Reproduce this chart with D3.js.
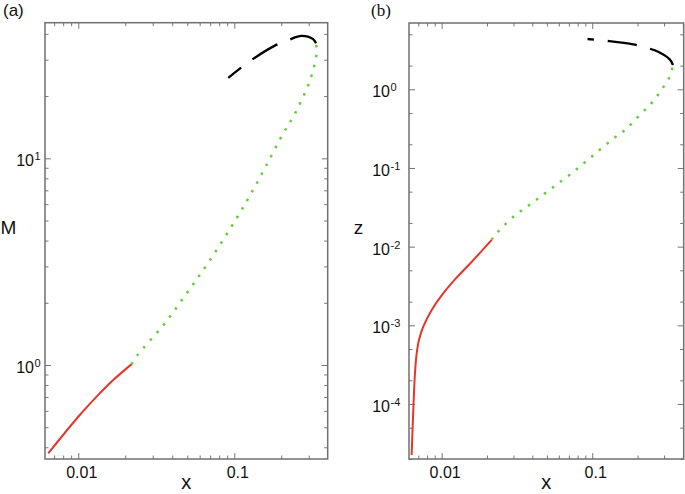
<!DOCTYPE html>
<html>
<head>
<meta charset="utf-8">
<title>M and z against x</title>
<script src="https://cdn.jsdelivr.net/npm/d3@7"></script>
<style>
  body { margin: 0; background: #fff; }
  text { font-family: "Liberation Sans", Arial, sans-serif; fill: #111; }
</style>
</head>
<body>
<div id="app"></div>
<script>
// panel (a): M vs x
const aRed = [[0.00642, 0.374], [0.01, 0.562], [0.0131, 0.703], [0.01675, 0.846], [0.022, 1.01]];
const aGreen = [[0.022, 1.01], [0.0237, 1.105], [0.0351, 1.56], [0.0495, 2.22], [0.0699, 3.22], [0.1035, 5.13],
  [0.129, 6.82], [0.161, 9.28], [0.206, 13.2], [0.239, 15.9], [0.270, 19.1], [0.306, 23.9], [0.337, 32.2], [0.334, 36.0]];
const aBlack = [[0.334, 36.0], [0.32, 37.7], [0.27, 39.1], [0.222, 37.3], [0.182, 35.1], [0.129, 29.9], [0.0915, 24.5]];
const aXTicks = [0.01, 0.1];
const aYTicks = [1, 10];

// panel (b): z vs x
const bRed = [[0.00632, 2.25e-5], [0.00642, 5.16e-5], [0.00665, 2.46e-4], [0.00683, 4.42e-4], [0.00707, 6.52e-4],
  [0.00755, 9.63e-4], [0.00859, 1.57e-3], [0.01, 2.40e-3], [0.01226, 3.83e-3], [0.0158, 6.39e-3], [0.0215, 0.0122]];
const bGreen = [[0.0215, 0.0122], [0.0220, 0.01316], [0.0292, 0.0230], [0.0396, 0.0356], [0.0537, 0.0552], [0.0729, 0.0857],
  [0.099, 0.139], [0.1345, 0.227], [0.165, 0.304], [0.202, 0.449], [0.247, 0.664], [0.288, 0.98], [0.327, 1.45], [0.344, 2.04]];
const bBlack = [[0.344, 2.04], [0.327, 2.40], [0.274, 3.0], [0.229, 3.38], [0.187, 3.73], [0.121, 4.15], [0.093, 4.36]];
const bXTicks = [0.01, 0.1];
const bYTicks = [1e-4, 1e-3, 1e-2, 1e-1, 1];

const W = 685, H = 494;
const svg = d3.select('#app').append('svg').attr('width', W).attr('height', H);

const panels = [
  { tag: '(a)', tagX: 3, tagFont: '"Liberation Sans", Arial, sans-serif', yName: 'M', yNameX: 8.5,
    x0: 45, x1: 327.7, y0: 22.7, y1: 459, xDom: [0.00612, 0.397], yDom: [0.351, 45.3],
    yMinor: [2, 3, 4, 5, 6, 7, 8, 9], labelEnd: 34,
    red: aRed, green: aGreen, black: aBlack, xTicks: aXTicks, yTicks: aYTicks },
  { tag: '(b)', tagX: 371, tagFont: '"Liberation Serif", "DejaVu Serif", serif', yName: 'z', yNameX: 358.5,
    x0: 409, x1: 683.7, y0: 23, y1: 459, xDom: [0.00607, 0.405], yDom: [2.0e-5, 6.96],
    yMinor: [2, 5], labelEnd: 390,
    red: bRed, green: bGreen, black: bBlack, xTicks: bXTicks, yTicks: bYTicks }
];

// log minor tick values inside a domain
function minorTicks(dom, mults) {
  const out = [];
  for (let d = Math.floor(Math.log10(dom[0])); d <= Math.ceil(Math.log10(dom[1])); d++) {
    mults.forEach(function (m) {
      const v = m * Math.pow(10, d);
      if (v >= dom[0] && v <= dom[1]) out.push(v);
    });
  }
  return out;
}

panels.forEach(function (p) {
  const x = d3.scaleLog().domain(p.xDom).range([p.x0, p.x1]);
  const y = d3.scaleLog().domain(p.yDom).range([p.y1, p.y0]);
  const g = svg.append('g');

  const xMinor = minorTicks(p.xDom, [2, 3, 4, 5, 6, 7, 8, 9]);
  const yMinor = minorTicks(p.yDom, p.yMinor);

  // ticks on all four sides, pointing inward
  function addAxis(axis, tx, ty) {
    const a = g.append('g').attr('transform', 'translate(' + tx + ',' + ty + ')').call(axis);
    a.select('.domain').remove();
    a.selectAll('line').attr('stroke', '#777').attr('stroke-width', 1);
  }
  [[p.xTicks, 6], [xMinor, 3.5]].forEach(function (t) {
    addAxis(d3.axisBottom(x).tickValues(t[0]).tickSize(-t[1]).tickFormat(''), 0, p.y1);
    addAxis(d3.axisTop(x).tickValues(t[0]).tickSize(-t[1]).tickFormat(''), 0, p.y0);
  });
  [[p.yTicks, 6], [yMinor, 3.5]].forEach(function (t) {
    addAxis(d3.axisLeft(y).tickValues(t[0]).tickSize(-t[1]).tickFormat(''), p.x0, 0);
    addAxis(d3.axisRight(y).tickValues(t[0]).tickSize(-t[1]).tickFormat(''), p.x1, 0);
  });

  g.append('rect')
    .attr('x', p.x0).attr('y', p.y0)
    .attr('width', p.x1 - p.x0).attr('height', p.y1 - p.y0)
    .attr('fill', 'none').attr('stroke', '#707070').attr('stroke-width', 1.5);

  // x tick labels
  g.selectAll('.xl').data(p.xTicks).enter().append('text')
    .attr('x', function (d) { return x(d) + 3.5; })
    .attr('y', 478)
    .attr('text-anchor', 'middle')
    .attr('font-size', 16)
    .text(function (d) { return d; });

  // y tick labels as 10 with superscript exponent
  p.yTicks.forEach(function (d) {
    const e = Math.round(Math.log10(d));
    g.append('text').attr('x', p.labelEnd).attr('y', y(d) + 8)
      .attr('text-anchor', 'end').attr('font-size', 16).text('10');
    g.append('text').attr('x', p.labelEnd + 0.5).attr('y', y(d) + 2)
      .attr('font-size', 11).text(e);
  });

  // axis names
  g.append('text').attr('x', (p.x0 + p.x1) / 2).attr('y', 488.5)
    .attr('text-anchor', 'middle').attr('font-size', 20).text('x');
  g.append('text').attr('x', p.yNameX).attr('y', 233.5)
    .attr('text-anchor', 'middle').attr('font-size', 19).text(p.yName);

  g.append('text').attr('x', p.tagX).attr('y', 16)
    .style('font-family', p.tagFont).attr('font-size', 17).text(p.tag);

  const line = d3.line()
    .x(function (d) { return x(d[0]); })
    .y(function (d) { return y(d[1]); })
    .curve(d3.curveCatmullRom.alpha(0.5));

  g.append('path').attr('d', line(p.red))
    .attr('fill', 'none').attr('stroke', '#e8352b').attr('stroke-width', 2);
  g.append('path').attr('d', line(p.green))
    .attr('fill', 'none').attr('stroke', '#66cc3a').attr('stroke-width', 2.5)
    .attr('stroke-dasharray', '2.5,7.5');
  g.append('path').attr('d', line(p.black))
    .attr('fill', 'none').attr('stroke', '#000').attr('stroke-width', 2.3)
    .attr('stroke-dasharray', '29,14');
});
</script>
</body>
</html>
